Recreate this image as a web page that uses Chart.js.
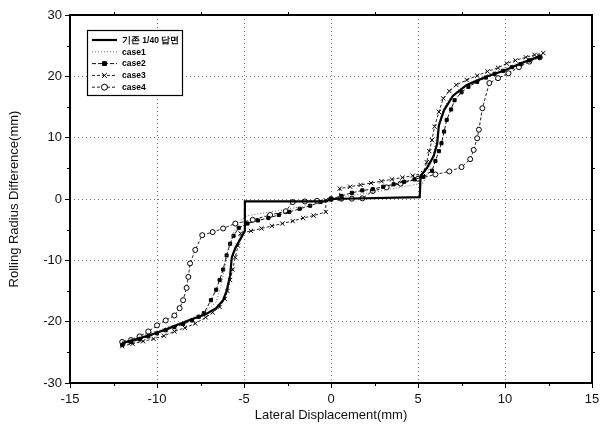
<!DOCTYPE html>
<html><head><meta charset="utf-8">
<script src="https://cdn.jsdelivr.net/npm/chart.js@4.4.1/dist/chart.umd.min.js"></script>
<style>html,body{margin:0;padding:0;background:#fff}#wrap{width:606px;height:437px}</style>
</head><body><div id="wrap"><canvas id="c" width="606" height="437"></canvas></div>
<script>
// ---- data ----
const seriesNames = ["기존 1/40 답면", "case1", "case2", "case3", "case4"];
const xTicks = [-15, -10, -5, 0, 5, 10, 15];
const yTicks = [-30, -20, -10, 0, 10, 20, 30];

const designX = [-12,-11,-10,-9,-8,-7.2,-6.6,-6.2,-6.0,-5.8,-5.7,-5.5,-5.2,-4.95,-4.95,-0.3,0,5.1,5.15,5.5,5.9,6.1,6.2,6.5,7,7.8,9,10,11,12];
const designY = [-23.5,-22.7,-21.8,-20.7,-19.6,-18.8,-17.8,-16.5,-15,-12.5,-9.5,-8,-6.5,-5.2,-0.4,-0.4,0,0.3,3.8,5,7,9,12,14.5,16.8,18.6,20,21,22.2,23.3];

const case1X = [-12,-11,-10,-9,-8,-7.2,-6.6,-6.3,-6.1,-5.9,-5.6,-5.2,-4.8,-3,-1,-0.3,0,0.5,2,4,5.3,5.6,5.9,6.1,6.3,6.7,7.3,8,9,10,11,12];
const case1Y = [-23.2,-22.4,-21.5,-20.5,-19.4,-18.3,-16.8,-14,-11,-8,-5.5,-3.5,-2.7,-1.9,-0.9,-0.3,0,0.3,0.9,1.9,2.6,4.5,7.5,10.5,13.5,16,17.8,19,20.3,21.4,22.4,23.3];

const case2X = [-12,-11.5,-11,-10.5,-10,-9.5,-9,-8.5,-8,-7.6,-7.3,-6.9,-6.6,-6.4,-6.2,-6.0,-5.8,-5.6,-5.3,-4.8,-4.2,-3.6,-3.0,-2.4,-1.8,-1.2,-0.6,0,0.6,1.2,1.8,2.4,3.0,3.6,4.2,4.8,5.3,5.8,6.0,6.2,6.35,6.5,6.65,6.9,7.1,7.5,7.9,8.4,8.9,9.4,9.9,10.4,10.9,11.4,12];
const case2Y = [-23.8,-23.3,-22.9,-22.4,-21.9,-21.4,-20.9,-20.4,-19.8,-19.2,-18.6,-16.5,-14.8,-13.2,-11.5,-9.2,-7.3,-6.0,-4.7,-4.0,-3.5,-3.1,-2.6,-2.1,-1.6,-1.1,-0.5,0,0.5,1.0,1.4,1.6,2.0,2.4,2.8,3.2,3.6,4.6,6.2,7.8,9.1,11,12.9,14.6,16.1,17.4,18.3,19.1,19.8,20.4,20.9,21.5,22.0,22.6,23.1];

const case3X = [-12,-11.4,-10.8,-10.2,-9.6,-9,-8.4,-7.8,-7.2,-6.8,-6.4,-6.1,-5.95,-5.8,-5.65,-5.5,-5.35,-5.2,-4.6,-4.0,-3.4,-2.8,-2.2,-1.6,-1.0,-0.3,-0.3,0.5,0.5,1.1,1.7,2.3,2.9,3.5,4.1,4.7,5.3,5.5,5.65,5.8,5.95,6.2,6.45,6.8,7.2,7.8,8.4,9,9.6,10.1,10.6,11.2,11.7,12.2];
const case3Y = [-24,-23.6,-23.2,-22.8,-22.3,-21.6,-21.0,-20.3,-19.3,-18.5,-17.6,-16.3,-15,-13.2,-11.5,-9.5,-7.6,-5.6,-5.2,-4.8,-4.4,-4.0,-3.6,-3.1,-2.7,-2.1,-0.2,0,1.7,2.0,2.3,2.6,2.9,3.2,3.5,3.8,4.2,6.0,7.8,9.6,11.8,14.2,16.4,17.6,18.6,19.4,20.1,20.8,21.4,22.1,22.6,23.1,23.5,23.8];

const case4X = [-12,-11.5,-11,-10.5,-10,-9.5,-9,-8.7,-8.5,-8.3,-8.2,-8.1,-7.8,-7.4,-6.8,-6.2,-5.5,-4.5,-3.5,-2.6,-2.2,-1.5,-0.8,0,0.6,1.2,1.8,2.4,3.2,4.0,5.0,6.0,6.8,7.5,8.0,8.2,8.4,8.5,8.7,9.1,9.6,10.2,10.8,11.4,12];
const case4Y = [-23.3,-23.0,-22.4,-21.6,-20.6,-19.8,-19.0,-17.8,-16.5,-14.5,-12.7,-10.5,-8.3,-5.9,-5.4,-4.8,-4.0,-3.4,-2.6,-2.0,-0.5,-0.4,-0.3,0,0.05,0.05,0.1,1.3,1.9,2.5,3.3,4.0,4.5,5.2,6.5,8.0,9.9,11.3,14.8,18.9,19.7,20.5,21.5,22.4,23.1];

function pts(xs, ys){ return xs.map((x,i)=>({x:x, y:ys[i]})); }

const styles = [
  {borderColor:'#000', borderWidth:2.2, pointRadius:0, borderDash:[]},
  {borderColor:'#666', borderWidth:1, pointRadius:0, borderDash:[1,2]},
  {borderColor:'#111', borderWidth:1, pointRadius:2.2, pointStyle:'rect', pointBackgroundColor:'#000', pointBorderColor:'#000', borderDash:[4,2]},
  {borderColor:'#222', borderWidth:1, pointRadius:3, pointStyle:'crossRot', pointBorderColor:'#000', pointBorderWidth:1, borderDash:[3,2]},
  {borderColor:'#222', borderWidth:1, pointRadius:2.5, pointStyle:'circle', pointBackgroundColor:'#fff', pointBorderColor:'#000', pointBorderWidth:1, borderDash:[3,2]}
];
const allData = [pts(designX,designY), pts(case1X,case1Y), pts(case2X,case2Y), pts(case3X,case3Y), pts(case4X,case4Y)];
const datasets = allData.map((d,i)=>Object.assign({label:seriesNames[i], data:d, showLine:true, fill:false, tension:0}, styles[i]));

const FONT = "'Liberation Sans', Arial, sans-serif";

const decor = {
  id:'decor',
  afterDraw(chart){
    const ctx = chart.ctx, a = chart.chartArea;
    const xs = chart.scales.x, ys = chart.scales.y;
    ctx.save();
    ctx.strokeStyle = '#000'; ctx.lineWidth = 1; ctx.setLineDash([]);
    for (let v = -12.5; v <= 12.5; v += 5) {
      const px = Math.round(xs.getPixelForValue(v)) + 0.5;
      ctx.beginPath(); ctx.moveTo(px, a.bottom); ctx.lineTo(px, a.bottom + 3); ctx.stroke();
      ctx.beginPath(); ctx.moveTo(px, a.top); ctx.lineTo(px, a.top - 3); ctx.stroke();
    }
    for (let v = -25; v <= 25; v += 10) {
      const py = Math.round(ys.getPixelForValue(v)) + 0.5;
      ctx.beginPath(); ctx.moveTo(a.left, py); ctx.lineTo(a.left - 3, py); ctx.stroke();
      ctx.beginPath(); ctx.moveTo(a.right, py); ctx.lineTo(a.right + 3, py); ctx.stroke();
    }
    ctx.lineWidth = 2;
    ctx.strokeRect(a.left, a.top, a.right - a.left, a.bottom - a.top);
    const bx = a.left + 17, by = a.top + 15, bw = 95, bh = 65;
    ctx.fillStyle = '#fff'; ctx.fillRect(bx, by, bw, bh);
    ctx.lineWidth = 1.2; ctx.strokeStyle = '#000';
    ctx.strokeRect(bx + 0.5, by + 0.5, bw, bh);
    chart.data.datasets.forEach((ds, i) => {
      const yy = by + 10 + i * 11.8;
      const x0 = bx + 5, x1 = bx + 30;
      ctx.save();
      ctx.strokeStyle = ds.borderColor; ctx.lineWidth = ds.borderWidth;
      ctx.setLineDash(ds.borderDash || []);
      ctx.beginPath(); ctx.moveTo(x0, yy); ctx.lineTo(x1, yy); ctx.stroke();
      ctx.setLineDash([]);
      if (ds.pointRadius > 0) {
        ctx.fillStyle = ds.pointBackgroundColor || '#000';
        ctx.strokeStyle = ds.pointBorderColor || '#000';
        ctx.lineWidth = ds.pointBorderWidth || 1;
        Chart.helpers.drawPoint(ctx, {pointStyle: ds.pointStyle, radius: ds.pointRadius + 0.5, borderWidth: ctx.lineWidth}, (x0 + x1) / 2, yy);
      }
      ctx.restore();
      ctx.fillStyle = '#000';
      ctx.font = 'bold 8.5px ' + FONT;
      ctx.textBaseline = 'middle'; ctx.textAlign = 'left';
      ctx.fillText(ds.label, x1 + 5, yy + 0.5);
    });
    ctx.restore();
  }
};

new Chart(document.getElementById('c'), {
  type: 'scatter',
  data: { datasets },
  options: {
    responsive: false, animation: false, devicePixelRatio: 1,
    layout: { padding: { left: 0, top: 15, right: 14, bottom: 12 } },
    plugins: { legend: { display: false }, tooltip: { enabled: false } },
    scales: {
      x: {
        type: 'linear', min: -15, max: 15,
        afterBuildTicks(s){ s.ticks = xTicks.map(v => ({value: v})); },
        afterFit(s){ s.height = 42; },
        ticks: { color: '#111', font: { family: FONT, size: 13 }, padding: 4 },
        grid: { color: (c) => (c.tick && (c.tick.value === -15 || c.tick.value === 15)) ? 'rgba(0,0,0,0)' : '#777', lineWidth: 1, tickColor: '#000', tickLength: 5, drawTicks: true },
        border: { display: false, dash: [1, 3] },
        title: { display: true, text: 'Lateral Displacement(mm)', color: '#111', font: { family: FONT, size: 13 }, padding: { top: 6, bottom: 2 } }
      },
      y: {
        type: 'linear', min: -30, max: 30,
        afterBuildTicks(s){ s.ticks = yTicks.map(v => ({value: v})); },
        afterFit(s){ s.width = 70; },
        ticks: { color: '#111', font: { family: FONT, size: 13 }, padding: 3 },
        grid: { color: (c) => (c.tick && (c.tick.value === -30 || c.tick.value === 30)) ? 'rgba(0,0,0,0)' : '#777', lineWidth: 1, tickColor: '#000', tickLength: 5 },
        border: { display: false, dash: [1, 3] },
        title: { display: true, text: 'Rolling Radius Difference(mm)', color: '#111', font: { family: FONT, size: 13 }, padding: { top: 7, bottom: 4 } }
      }
    }
  },
  plugins: [decor]
});
</script>
</body></html>
